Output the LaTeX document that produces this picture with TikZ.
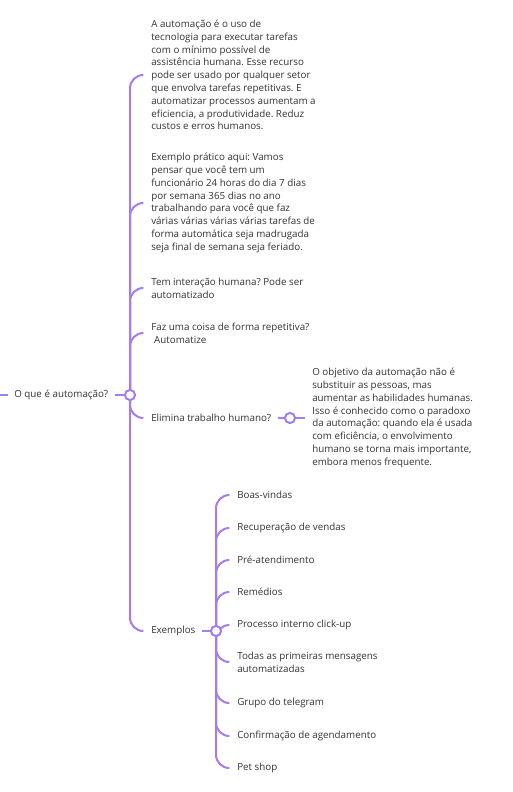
\documentclass[tikz,border=0pt]{standalone}
\usepackage{fontspec}
\setmainfont{Open Sans}
\usetikzlibrary{calc}
\frenchspacing
\definecolor{linec}{HTML}{A47DF0}
\definecolor{txtc}{HTML}{333333}
\begin{document}
\begin{tikzpicture}[x=0.75pt,y=-0.75pt,
  conn/.style={draw=linec,line width=1.5pt,rounded corners=10pt},
  hub/.style={circle,draw=linec,line width=1.4pt,fill=white,inner sep=0pt,minimum size=7.5pt},
  lbl/.style={anchor=west,inner sep=0pt,text=txtc,font=\fontsize{7.35pt}{9.6pt}\selectfont,align=left}]
\useasboundingbox[fill=white] (0,0) rectangle (512,792);
% root
\node[lbl] (root) at (14,395) {O que é automação?};
\coordinate (rin) at (0,395);
\coordinate (rin2) at (8,395);
\node[hub] (rh) at (130,395) {};
% root children ends
\coordinate (c1) at (143,75);
\coordinate (c2) at (143,203);
\coordinate (c3) at (143,288);
\coordinate (c4) at (143,333);
\coordinate (c5) at (143,418);
\coordinate (c6) at (143,631);
\node[lbl] (t1) at (151,75) {A automação é o uso de\\tecnologia para executar tarefas\\com o mínimo possível de\\assistência humana. Esse recurso\\pode ser usado por qualquer setor\\que envolva tarefas repetitivas. E\\automatizar processos aumentam a\\eficiencia, a produtividade. Reduz\\custos e erros humanos.};
\node[lbl] (t2) at (151,203) {Exemplo prático aqui: Vamos\\pensar que você tem um\\funcionário 24 horas do dia 7 dias\\por semana 365 dias no ano\\trabalhando para você que faz\\várias várias várias várias tarefas de\\forma automática seja madrugada\\seja final de semana seja feriado.};
\node[lbl] (t3) at (151,288) {Tem interação humana? Pode ser\\automatizado};
\node[lbl] (t4) at (151,333) {Faz uma coisa de forma repetitiva?\\\hspace*{2.2pt}Automatize};
\node[lbl] (t5) at (151,418) {Elimina trabalho humano?};
\node[lbl] (t6) at (151,631) {Exemplos};
% Elimina child
\node[hub] (eh) at (290,418) {};
\node[lbl] (t7) at (312,418) {O objetivo da automação não é\\substituir as pessoas, mas\\aumentar as habilidades humanas.\\Isso é conhecido como o paradoxo\\da automação: quando ela é usada\\com eficiência, o envolvimento\\humano se torna mais importante,\\embora menos frequente.};
% Exemplos children
\node[hub] (xh) at (216,631) {};
\coordinate (x1) at (229,495);
\coordinate (x2) at (229,528);
\coordinate (x3) at (229,560);
\coordinate (x4) at (229,592);
\coordinate (x5) at (229,625);
\coordinate (x6) at (229,662);
\coordinate (x7) at (229,703);
\coordinate (x8) at (229,736);
\coordinate (x9) at (229,768);
\node[lbl] (e1) at (237,495) {Boas-vindas};
\node[lbl] (e2) at (237,528) {Recuperação de vendas};
\node[lbl] (e3) at (237,560) {Pré-atendimento};
\node[lbl] (e4) at (237,592) {Remédios};
\node[lbl] (e5) at (237,625) {Processo interno click-up};
\node[lbl] (e6) at (237,662) {Todas as primeiras mensagens\\automatizadas};
\node[lbl] (e7) at (237,703) {Grupo do telegram};
\node[lbl] (e8) at (237,736) {Confirmação de agendamento};
\node[lbl] (e9) at (237,768) {Pet shop};
% connectors
\draw[conn] (rin) -- (rin2);
\draw[conn] ($(root.east)+(7,0)$) -- (rh);
\foreach \c in {c1,c2,c3,c4,c5,c6}{
  \draw[conn] (rh.center) |- (\c);
}
\draw[conn] ($(t5.east)+(7,0)$) -- (eh);
\draw[conn] (eh) -- ($(t7.west)+(-7,0)$);
\draw[conn] ($(t6.east)+(6,0)$) -- (xh);
\foreach \c in {x1,x2,x3,x4,x5,x6,x7,x8,x9}{
  \draw[conn] (xh.center) |- (\c);
}
\node[hub] at (rh) {};
\node[hub] at (eh) {};
\node[hub] at (xh) {};
\end{tikzpicture}
\end{document}
